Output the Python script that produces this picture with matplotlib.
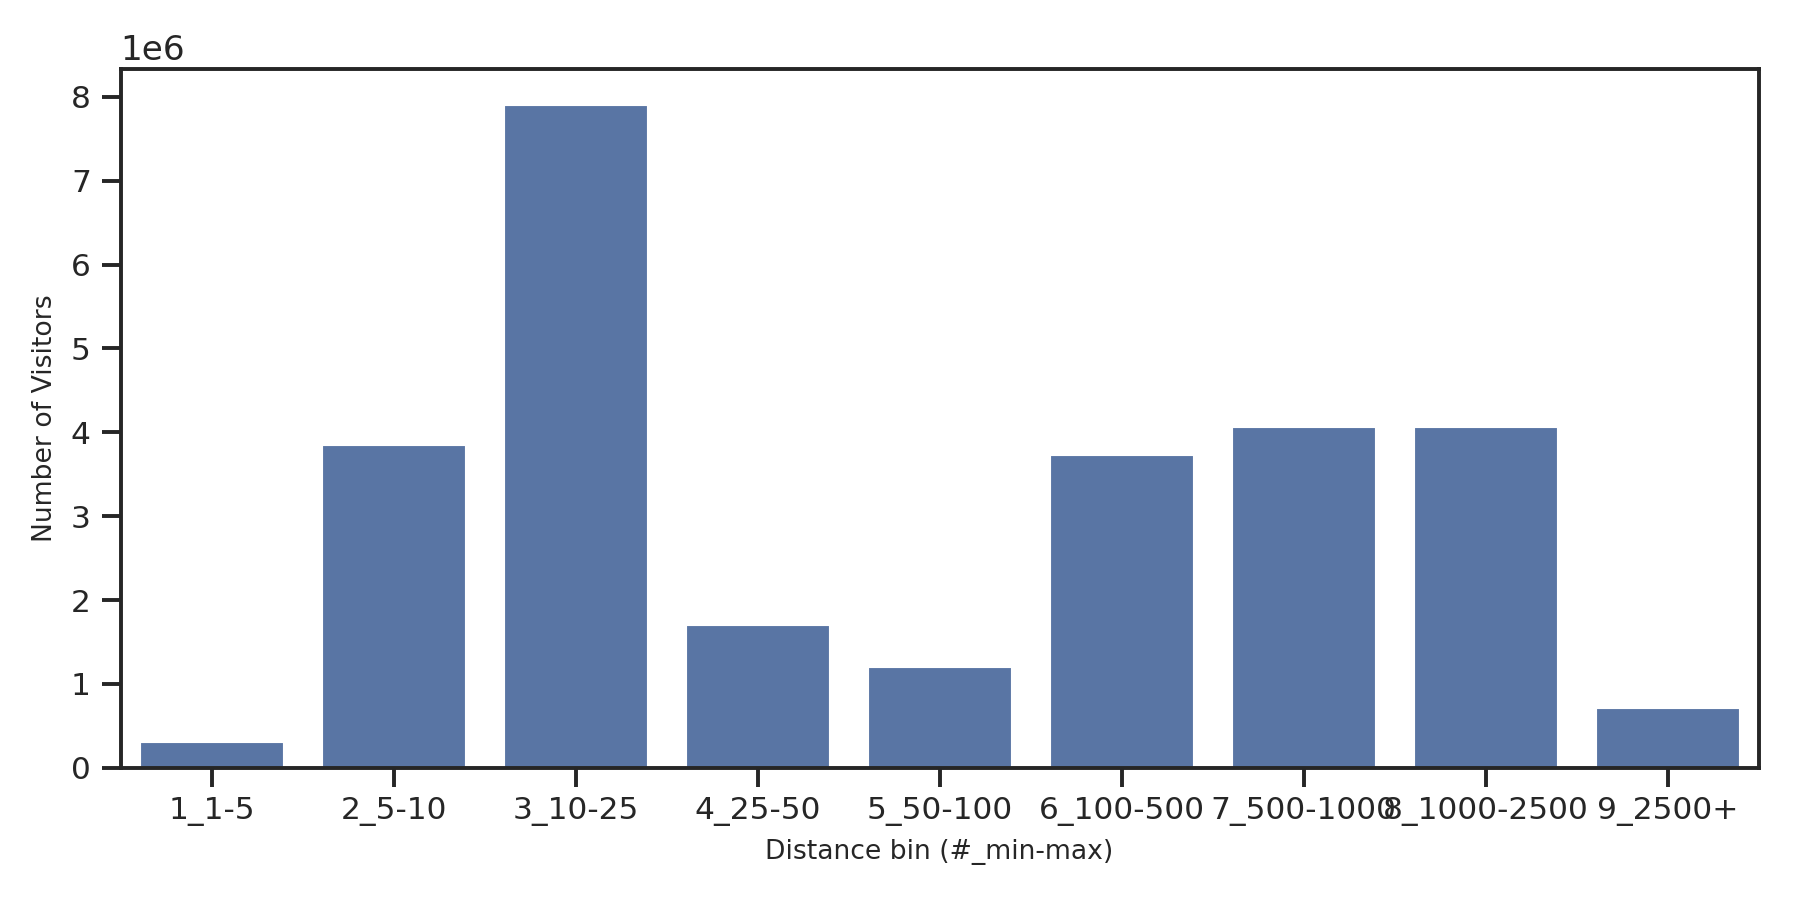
import numpy as np
import matplotlib
matplotlib.use("Agg")
import matplotlib.pyplot as plt
import seaborn as sns

bins = ["1_1-5", "2_5-10", "3_10-25", "4_25-50", "5_50-100",
        "6_100-500", "7_500-1000", "8_1000-2500", "9_2500+"]
visitors = [0.32e6, 3.86e6, 7.92e6, 1.71e6, 1.21e6, 3.74e6, 4.08e6, 4.08e6, 0.72e6]

sns.set_theme(style="ticks", context="notebook")
plt.rcParams['font.family'] = ['DejaVu Sans']

fig, ax = plt.subplots(figsize=(8, 4), dpi=225)
fig.subplots_adjust(left=0.067, right=0.977, top=0.923, bottom=0.147)
sns.barplot(x=bins, y=visitors, color="#4c72b0", ax=ax)
ax.set_xlabel("Distance bin (#_min-max)", fontsize=8.5)
ax.set_ylabel("Number of Visitors", fontsize=8.5)
ax.tick_params(labelsize=10)
ax.set_ylim(0, 8.33e6)
fig.savefig("out.png")
